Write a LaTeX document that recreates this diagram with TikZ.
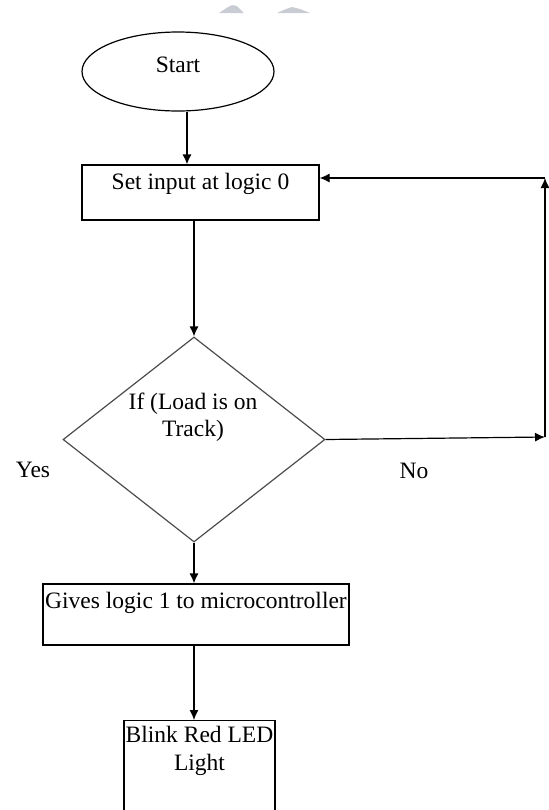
\documentclass[tikz,border=0pt]{standalone}
\usepackage{fontspec}
\setmainfont{Liberation Serif}
\usetikzlibrary{arrows.meta,shapes.geometric}
\definecolor{smudge}{HTML}{C9CDD3}

\begin{document}
\begin{tikzpicture}[x=0.5pt, y=-0.5pt,
  every node/.style={font=\fontsize{11.75}{13.75}\selectfont},
  box/.style={draw, line width=0.6pt, align=center, inner sep=0pt},
  arr/.style={-{Latex[length=5pt,width=4.5pt]}, line width=0.6pt}]

\useasboundingbox (0,0) rectangle (549,810);

% grey marks along the top edge
\fill[smudge] (219,13) -- (228,7) -- (232,5) -- (237,6) -- (244,13) -- cycle;
\fill[smudge] (277,13) -- (286,9) -- (292,7) -- (300,9) -- (310,13) -- cycle;

% start
\node[ellipse, draw, line width=0.6pt, minimum width=96pt, minimum height=39.5pt,
  inner sep=0pt, text depth=7pt] (start) at (178,71.5) {Start};

% set input
\node[box, minimum width=118.5pt, minimum height=27.5pt, text depth=11.5pt]
  (setin) at (200.5,192.5) {Set input at logic 0};

% decision
\node[diamond, draw=black!70, line width=0.6pt, minimum width=131pt,
  minimum height=102.5pt, inner sep=0pt] (dec) at (194,439.5) {};
\node[align=center] (dectxt) at (193,417) {If (Load is on\\Track)};
\node (yes) at (33,470) {Yes};
\node (no) at (414,471) {No};

% gives logic 1
\node[box, minimum width=153pt, minimum height=30.5pt, text depth=14.5pt]
  (give) at (196,614.5) {Gives logic 1 to microcontroller};

% blink
\node[box, anchor=north, minimum width=75.5pt, inner ysep=3pt, text depth=60pt]
  (blink) at (199.5,720) {Blink Red LED\\Light};

% connectors
\draw[arr] ([xshift=4.5pt]start.south) -- ([xshift=4.5pt]start.south |- setin.north);
\draw[arr] (dec.north |- setin.south) -- (dec.north);
\coordinate (loopb) at (545,437);
\coordinate (loopt) at (545,178);
\draw[arr] (dec.east) -- (loopb);
\draw[arr] (loopb) -- (loopt);
\draw[arr] (loopt) -- (loopt -| setin.east);
\draw[arr] (dec.south) -- (dec.south |- give.north);
\draw[arr] (dec.south |- give.south) -- (dec.south |- blink.north);

\end{tikzpicture}
\end{document}
